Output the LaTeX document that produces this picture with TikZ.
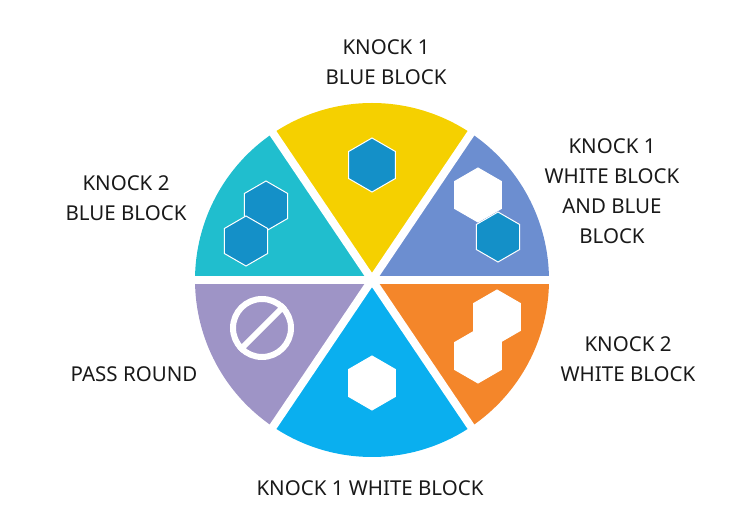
\documentclass[tikz,border=0pt]{standalone}
\usepackage{fontspec}
\setmainfont{Noto Sans}
\usetikzlibrary{shapes.geometric}
\definecolor{cyel}{HTML}{F5D000}
\definecolor{cteal}{HTML}{20BECE}
\definecolor{cslate}{HTML}{6C8ED0}
\definecolor{corange}{HTML}{F4862A}
\definecolor{clblue}{HTML}{0AAFEF}
\definecolor{cpurple}{HTML}{9E94C6}
\definecolor{chex}{HTML}{1490C8}
\tikzset{
 hexb/.style={regular polygon, regular polygon sides=6, shape border rotate=30, minimum size=54pt, inner sep=0pt, fill=chex, draw=white, line width=1pt},
 hexw/.style={hexb, fill=white},
 lbl/.style={align=center, font=\fontsize{20.5}{30}\selectfont, text=black!90}
}
\begin{document}
\begin{tikzpicture}[x=1pt,y=1pt]
\useasboundingbox (0,0) rectangle (750,524);
\coordinate (c) at (372,244);
\def\R{177}
\fill[cslate] (c) -- ++(0:\R) arc (0:56:\R) -- cycle;
\fill[cyel] (c) -- ++(56:\R) arc (56:124:\R) -- cycle;
\fill[cteal] (c) -- ++(124:\R) arc (124:180:\R) -- cycle;
\fill[cpurple] (c) -- ++(180:\R) arc (180:236:\R) -- cycle;
\fill[clblue] (c) -- ++(236:\R) arc (236:304:\R) -- cycle;
\fill[corange] (c) -- ++(304:\R) arc (304:360:\R) -- cycle;
\foreach \a in {0,56,124,180,236,304}
  \draw[white, line width=8pt] (c) -- ++(\a:\R+5);
% hexagons
\node[hexb] (h1) at (372,359) {};
\node[hexb, minimum size=50pt] (t1) at (266,318) {};
\node[hexb, minimum size=50pt] (t2) at (246,283) {};
\node[hexw] (s1) at (478,329) {};
\node[hexb, minimum size=50pt] (s2) at (498,287) {};
\node[hexw] (o1) at (497,207) {};
\node[hexw] (o2) at (478,168) {};
\node[hexw] (l1) at (372,141) {};
% pass sign
\node[circle, draw=white, line width=6pt, minimum size=58pt] (p) at (262,196) {};
\draw[white, line width=6pt] (p.north east) -- (p.south west);
% labels
\node[lbl] (a) at (386,462) {KNOCK 1\\BLUE BLOCK};
\node[lbl] (b) at (126,326) {KNOCK 2\\BLUE BLOCK};
\node[lbl] (d) at (612,333) {KNOCK 1\\WHITE BLOCK\\AND BLUE\\BLOCK};
\node[lbl] (e) at (628,165) {KNOCK 2\\WHITE BLOCK};
\node[lbl] (f) at (134,150) {PASS ROUND};
\node[lbl] (g) at (370,36) {KNOCK 1 WHITE BLOCK};
\end{tikzpicture}
\end{document}
